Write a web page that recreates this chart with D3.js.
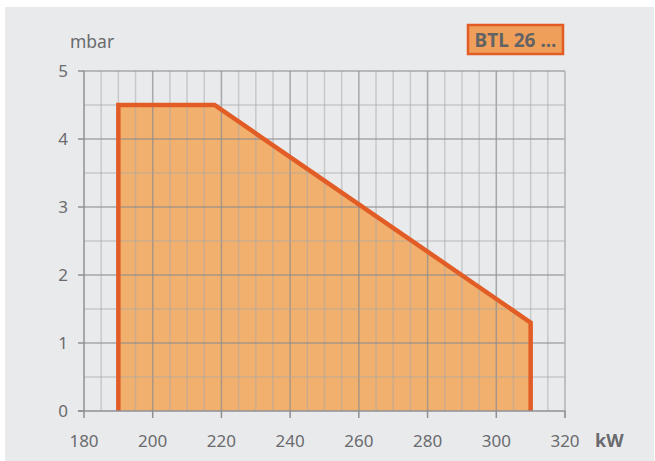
<!DOCTYPE html>
<html>
<head>
<meta charset="utf-8">
<script src="https://cdn.jsdelivr.net/npm/d3@7"></script>
<style>
  body { margin: 0; background: #fff; }
  text { font-family: "Noto Sans", "Open Sans", sans-serif; }
</style>
</head>
<body>
<svg id="root"></svg>
<script>
// working range of the burner
const rangeKw = [190, 190, 218, 310, 310];
const rangeMbar = [0, 4.5, 4.5, 1.3, 0];
const xTicks = [180, 200, 220, 240, 260, 280, 300, 320];
const yTicks = [0, 1, 2, 3, 4, 5];
const model = "BTL 26 ...";

const width = 655;
const height = 461;

const svg = d3.select("#root")
  .attr("width", width)
  .attr("height", height);

svg.append("rect")
  .attr("x", 5).attr("y", 7)
  .attr("width", 649).attr("height", 454)
  .attr("fill", "#e9eaec");

const x = d3.scaleLinear().domain([180, 320]).range([84, 565]);
const y = d3.scaleLinear().domain([0, 5]).range([411, 71]);

const line = d3.line().x((d, i) => x(rangeKw[i])).y((d, i) => y(rangeMbar[i]));

// fill goes under the grid
svg.append("path")
  .attr("d", line(rangeKw) + "Z")
  .attr("fill", "#f2b06e")
  .attr("stroke", "none");

// grid
const grid = svg.append("g");
grid.selectAll("line.vx")
  .data(d3.range(185, 320, 5))
  .enter().append("line")
  .attr("x1", d => x(d)).attr("x2", d => x(d))
  .attr("y1", y(0)).attr("y2", y(5))
  .attr("stroke", d => d % 20 === 0 ? "#8a8c90" : "#a8a8a8")
  .attr("stroke-opacity", d => d % 20 === 0 ? 0.7 : 0.5)
  .attr("stroke-width", 1.5);
grid.selectAll("line.hy")
  .data(d3.range(0.5, 5.01, 0.5))
  .enter().append("line")
  .attr("x1", x(180)).attr("x2", x(320))
  .attr("y1", d => y(d)).attr("y2", d => y(d))
  .attr("stroke", d => d % 1 === 0 ? "#8a8c90" : "#a8a8a8")
  .attr("stroke-opacity", d => d % 1 === 0 ? 0.7 : 0.5)
  .attr("stroke-width", 1.5);

svg.append("path")
  .attr("d", line(rangeKw))
  .attr("fill", "none")
  .attr("stroke", "#e25c26")
  .attr("stroke-width", 4.5)
  .attr("stroke-linejoin", "miter");

// axes
const axisColor = "#8e9094";
svg.append("line")
  .attr("x1", x(180)).attr("x2", x(180)).attr("y1", y(0)).attr("y2", y(5))
  .attr("stroke", axisColor).attr("stroke-width", 1.5);
svg.append("line")
  .attr("x1", x(320)).attr("x2", x(320)).attr("y1", y(0) + 7).attr("y2", y(5))
  .attr("stroke", "#b0b2b5").attr("stroke-width", 1.5);
svg.append("line")
  .attr("x1", x(180) - 6).attr("x2", x(320)).attr("y1", y(0)).attr("y2", y(0))
  .attr("stroke", axisColor).attr("stroke-width", 1.5);

svg.append("g").selectAll("line")
  .data(yTicks).enter().append("line")
  .attr("x1", x(180) - 6).attr("x2", x(180))
  .attr("y1", d => y(d)).attr("y2", d => y(d))
  .attr("stroke", axisColor).attr("stroke-width", 1.5);
svg.append("g").selectAll("line")
  .data(xTicks).enter().append("line")
  .attr("x1", d => x(d)).attr("x2", d => x(d))
  .attr("y1", y(0)).attr("y2", y(0) + 7)
  .attr("stroke", axisColor).attr("stroke-width", 1.5);

svg.append("g").selectAll("text")
  .data(yTicks).enter().append("text")
  .attr("x", 68).attr("y", d => y(d) + 6)
  .attr("text-anchor", "end")
  .attr("font-size", 17).attr("fill", "#6a6b6e")
  .text(d => d);
svg.append("g").selectAll("text")
  .data(xTicks).enter().append("text")
  .attr("x", d => x(d)).attr("y", 447)
  .attr("text-anchor", "middle")
  .attr("font-size", 17).attr("fill", "#6a6b6e")
  .text(d => d);

svg.append("text")
  .attr("x", 70).attr("y", 48)
  .attr("font-size", 17.5).attr("fill", "#6a6b6e")
  .text("mbar");
svg.append("text")
  .attr("x", 595).attr("y", 447)
  .attr("font-size", 18).attr("font-weight", "bold").attr("fill", "#6a6b6e")
  .text("kW");

// model badge
svg.append("rect")
  .attr("x", 468).attr("y", 25)
  .attr("width", 95).attr("height", 29)
  .attr("fill", "#f09f5a")
  .attr("stroke", "#e25c26").attr("stroke-width", 2.5);
svg.append("text")
  .attr("x", 515.5).attr("y", 47)
  .attr("text-anchor", "middle")
  .attr("font-size", 19).attr("font-weight", "bold").attr("fill", "#626365")
  .text(model);
</script>
</body>
</html>
